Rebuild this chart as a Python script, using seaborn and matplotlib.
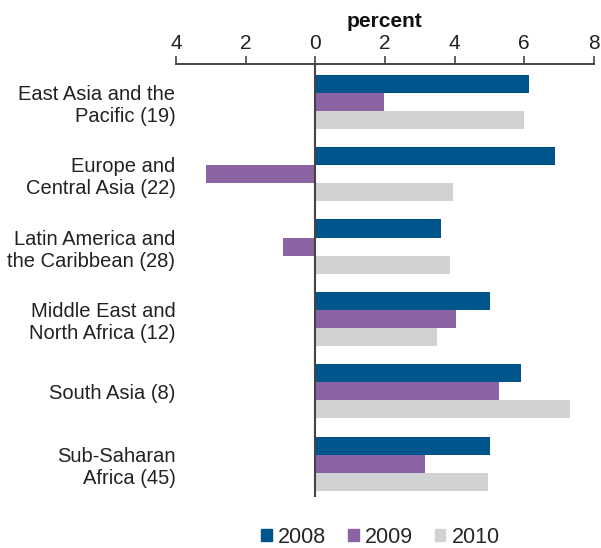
import matplotlib
matplotlib.use("Agg")
import matplotlib.pyplot as plt
import seaborn as sns
import pandas as pd
from matplotlib.ticker import FuncFormatter
from matplotlib.patches import Patch

regions = ["East Asia and the\nPacific (19)", "Europe and\nCentral Asia (22)",
           "Latin America and\nthe Caribbean (28)", "Middle East and\nNorth Africa (12)",
           "South Asia (8)", "Sub-Saharan\nAfrica (45)"]
years = ["2008", "2009", "2010"]
v2008 = [6.15, 6.88, 3.62, 5.01, 5.92, 5.01]
v2009 = [1.97, -3.15, -0.93, 4.04, 5.29, 3.16]
v2010 = [6.00, 3.96, 3.87, 3.50, 7.31, 4.95]
colors = ["#00558C", "#8B64A3", "#D1D2D4"]

rows = []
for yr, vals in zip(years, [v2008, v2009, v2010]):
    for r, v in zip(regions, vals):
        rows.append({"region": r, "year": yr, "value": v})
df = pd.DataFrame(rows)

sns.set_style("white")
plt.rcParams["font.family"] = ["Liberation Sans", "DejaVu Sans"]

fig = plt.figure(figsize=(6.01, 5.48), dpi=100)
ax = fig.add_axes([0.293, 0.093, 0.695, 0.790])
sns.barplot(data=df, y="region", x="value", hue="year", order=regions,
            hue_order=years, palette=colors, orient="h", width=0.75,
            linewidth=0, saturation=1, ax=ax, legend=False, errorbar=None)

ax.set_xlim(-4, 8)
ax.set_ylim(5.46, -0.52)
ax.set_xticks([-4, -2, 0, 2, 4, 6, 8])
ax.xaxis.set_major_formatter(FuncFormatter(lambda v, p: f"{abs(int(v))}"))
ax.xaxis.tick_top()
ax.xaxis.set_label_position("top")
ax.tick_params(axis="x", top=True, bottom=False, direction="out", length=6,
               width=1.2, color="#444444", labelsize=15, pad=2, labelcolor="#222222")
ax.tick_params(axis="y", left=False, labelsize=14.5, pad=-3, labelcolor="#222222")
for lbl in ax.get_yticklabels():
    lbl.set_horizontalalignment("right")
    lbl.set_multialignment("right")
ax.set_xlabel("percent", fontsize=15, fontweight="bold", labelpad=5, color="#111111")
ax.set_ylabel("")
for s in ["left", "right", "bottom"]:
    ax.spines[s].set_visible(False)
ax.spines["top"].set_color("#444444")
ax.spines["top"].set_linewidth(1.4)
ax.axvline(0, color="#444444", lw=1.5, zorder=5)

handles = [Patch(color=c, label=y) for c, y in zip(colors, years)]
fig.legend(handles=handles, loc="lower center", bbox_to_anchor=(0.633, -0.035),
           ncol=3, frameon=False, fontsize=15.5, handlelength=0.5, handleheight=0.5,
           handletextpad=0.3, columnspacing=1.0)

fig.savefig("out.png", dpi=100)
